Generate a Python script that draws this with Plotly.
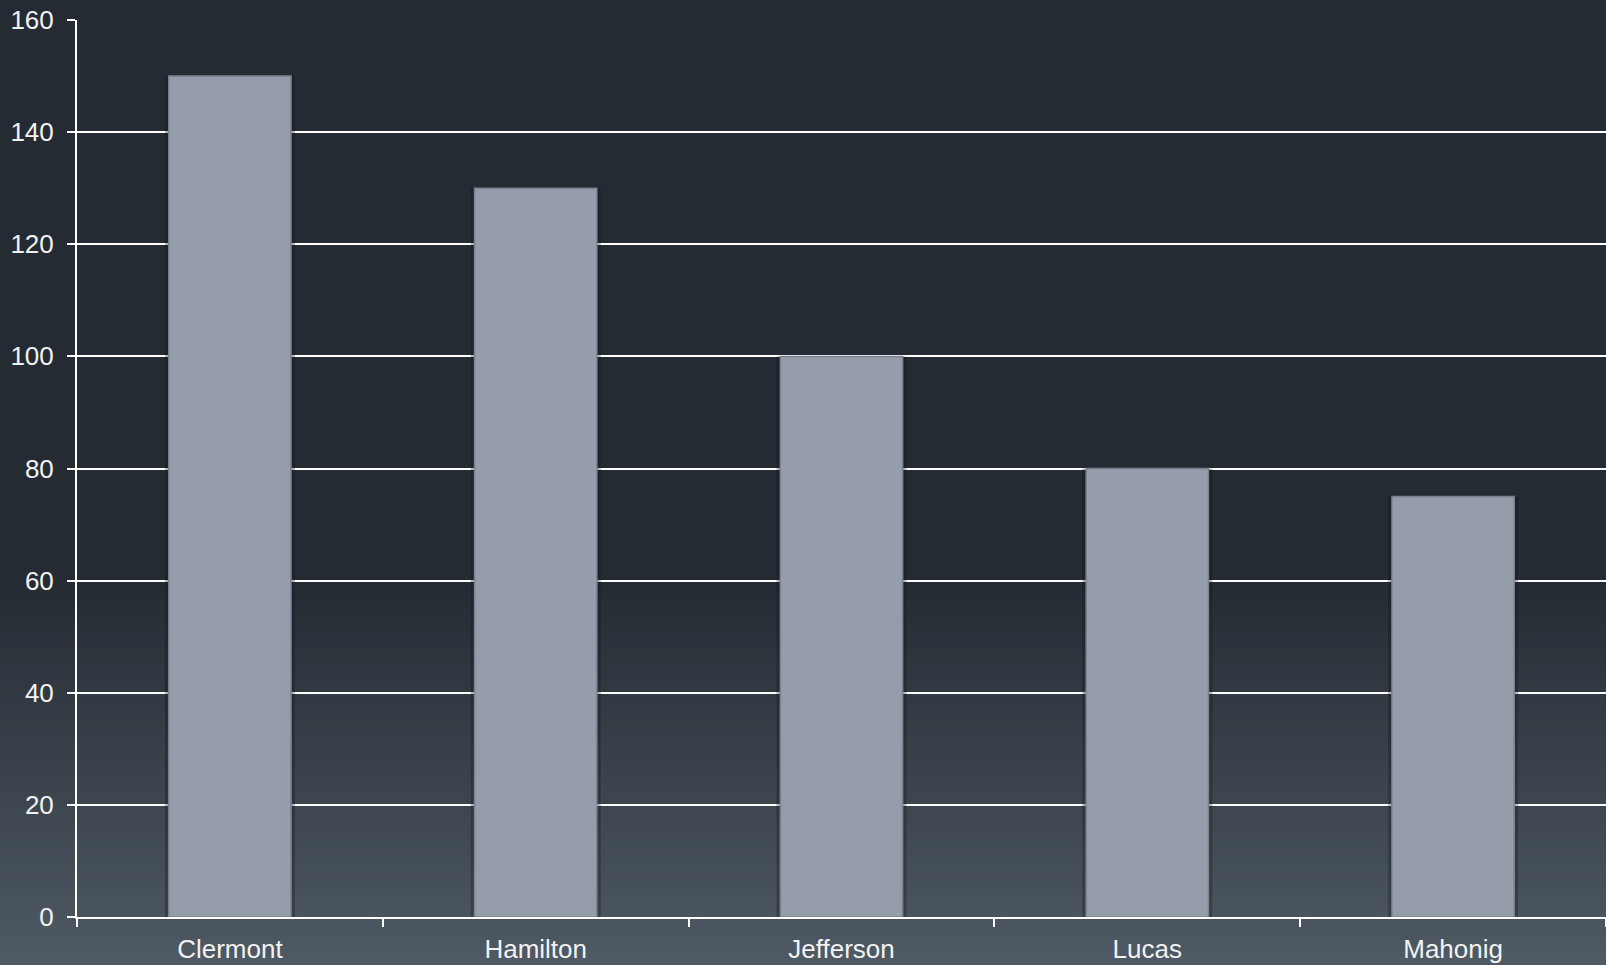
import plotly.graph_objects as go

categories = ["Clermont", "Hamilton", "Jefferson", "Lucas", "Mahonig"]
values = [150, 130, 100, 80, 75]
y_ticks = [0, 20, 40, 60, 80, 100, 120, 140, 160]

W, H = 1606, 965
ML, MR, MT, MB = 77, 0, 20, 48
plot_h = H - MT - MB
plot_w = W - ML - MR

fig = go.Figure()

# soft shadow behind bars
fig.add_trace(go.Bar(
    x=categories, y=values, width=0.425,
    marker=dict(color="rgba(15,18,24,0.30)", line=dict(width=0)),
    hoverinfo="skip", showlegend=False,
))
fig.add_trace(go.Bar(
    x=categories, y=values, width=0.40,
    marker=dict(color="#959caa", line=dict(color="#7b818d", width=1.5)),
    showlegend=False,
))

# background gradient (page y 580 -> 965)
top_rgb = (37, 43, 51)
bot_rgb = (79, 90, 100)
shapes = []
y_start, y_end = 580, H
n = 60
def py2paper(py):
    return (H - MB - py) / plot_h
for i in range(n):
    a = y_start + (y_end - y_start) * i / n
    b = y_start + (y_end - y_start) * (i + 1) / n
    t = (i + 0.5) / n
    c = tuple(round(top_rgb[k] + (bot_rgb[k] - top_rgb[k]) * t) for k in range(3))
    shapes.append(dict(
        type="rect", xref="paper", yref="paper",
        x0=-ML / plot_w - 0.01, x1=1.01,
        y0=py2paper(b + 0.5), y1=py2paper(a - 0.5),
        fillcolor="rgb(%d,%d,%d)" % c, line=dict(width=0), layer="below",
    ))

fig.update_layout(
    width=W, height=H,
    margin=dict(l=ML, r=MR, t=MT, b=MB, pad=0),
    paper_bgcolor="rgb(37,43,51)",
    plot_bgcolor="rgba(0,0,0,0)",
    barmode="overlay",
    shapes=shapes,
    font=dict(family="Liberation Sans, Arial, sans-serif", size=26, color="#f2f2f2"),
    xaxis=dict(
        showgrid=False, showline=True, linecolor="white", linewidth=2,
        ticks="outside", tickson="boundaries", ticklen=8, tickwidth=2, tickcolor="white",
        tickfont=dict(size=26, color="#f2f2f2"), ticklabelstandoff=8,
    ),
    yaxis=dict(
        range=[0, 160], tickvals=y_ticks, showgrid=True, gridcolor="white", gridwidth=2,
        zeroline=False, showline=True, linecolor="white", linewidth=2,
        ticks="outside", ticklen=8, tickwidth=2, tickcolor="white",
        tickfont=dict(size=26, color="#f2f2f2"), ticklabelstandoff=8,
    ),
)

fig.write_html(
    "out.html",
    config={"displayModeBar": False},
    post_script="document.body.style.margin='0';document.body.style.background='rgb(37,43,51)';",
)
